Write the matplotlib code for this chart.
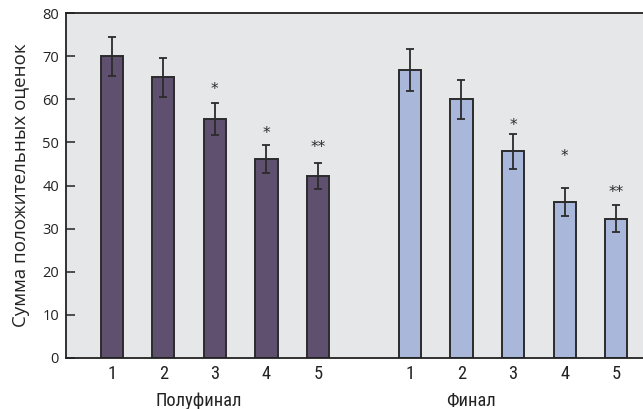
import matplotlib
matplotlib.use("Agg")
import matplotlib.pyplot as plt
from matplotlib import font_manager
from matplotlib.font_manager import FontProperties

# Data
ranks = ["1", "2", "3", "4", "5"]
semifinal = [70.0, 65.1, 55.4, 46.2, 42.2]
semifinal_err = [4.5, 4.5, 3.8, 3.3, 3.0]
semifinal_marks = ["", "", "*", "*", "**"]
final = [66.8, 60.0, 47.9, 36.2, 32.3]
final_err = [4.8, 4.5, 4.0, 3.2, 3.1]
final_marks = ["", "", "*", "*", "**"]
groups = ["Полуфинал", "Финал"]
ylabel = "Сумма положительных оценок"


def condensed_font(size):
    """Pick a narrow sans face if one is installed, else a plain sans."""
    files = font_manager.findSystemFonts()
    prefs = ["LiberationSansNarrow-Regular", "RobotoCondensed-Regular",
             "OpenSans_Condensed-Regular", "OpenSansCondensed", "NotoSans-Condensed",
             "DejaVuSansCondensed.ttf"]
    for p in prefs:
        for f in files:
            if p.lower() in f.lower().replace(" ", ""):
                return FontProperties(fname=f, size=size)
    return FontProperties(family="Liberation Sans", size=size)


narrow = condensed_font(13.2)
regular = "Open Sans"

fig = plt.figure(figsize=(6.43, 4.09), dpi=100)
ax = fig.add_axes([0.1026, 0.1247, 0.8974, 0.8435])
ax.set_facecolor("#e6e7e9")

gap = 5.78
x1 = [i for i in range(len(ranks))]
x2 = [gap + i for i in range(len(ranks))]
width = 0.43
edge = "#2b2b2b"

ax.bar(x1, semifinal, width, color="#5f5070", edgecolor=edge, linewidth=1.4, zorder=2)
ax.bar(x2, final, width, color="#a9b7db", edgecolor=edge, linewidth=1.4, zorder=2)
ax.errorbar(x1, semifinal, yerr=semifinal_err, fmt="none", ecolor=edge,
            elinewidth=1.3, capsize=2.6, capthick=1.3, zorder=3)
ax.errorbar(x2, final, yerr=final_err, fmt="none", ecolor=edge,
            elinewidth=1.3, capsize=2.6, capthick=1.3, zorder=3)

# significance markers sit a little above the error caps
mark_lift = [[0, 0, 3.7, 3.1, 4.2], [0, 0, 2.6, 7.9, 3.6]]
for xs, vals, errs, marks, lift in [(x1, semifinal, semifinal_err, semifinal_marks, mark_lift[0]),
                                    (x2, final, final_err, final_marks, mark_lift[1])]:
    for x, v, e, m, d in zip(xs, vals, errs, marks, lift):
        if m:
            ax.text(x, v + e + d - 0.6, m, ha="center", va="center",
                    fontsize=11, color="#2b2b2b", family="DejaVu Sans")

ax.set_xlim(-0.886, 10.3)
ax.set_ylim(0, 80)
ax.set_yticks(range(0, 81, 10))
ax.tick_params(axis="y", direction="in", length=6.5, width=1.1, labelsize=10.5,
               pad=5, colors="#222222")
for lab in ax.get_yticklabels():
    lab.set_family(regular)
ax.set_xticks(x1 + x2)
ax.set_xticklabels(ranks + ranks, fontproperties=narrow)
ax.tick_params(axis="x", length=0, pad=5, colors="#222222")

for s in ["top", "left", "bottom"]:
    ax.spines[s].set_linewidth(1.3)
    ax.spines[s].set_color("#222222")
ax.spines["right"].set_visible(False)

ax.set_ylabel(ylabel, family=regular, fontsize=13.5, color="#222222", labelpad=8.5)

for gx, g in zip([1.69, 6.96], groups):
    ax.text(gx, -0.125, g, transform=ax.get_xaxis_transform(), ha="center",
            va="center", fontproperties=narrow, color="#222222")

fig.savefig("out.png", dpi=100)
